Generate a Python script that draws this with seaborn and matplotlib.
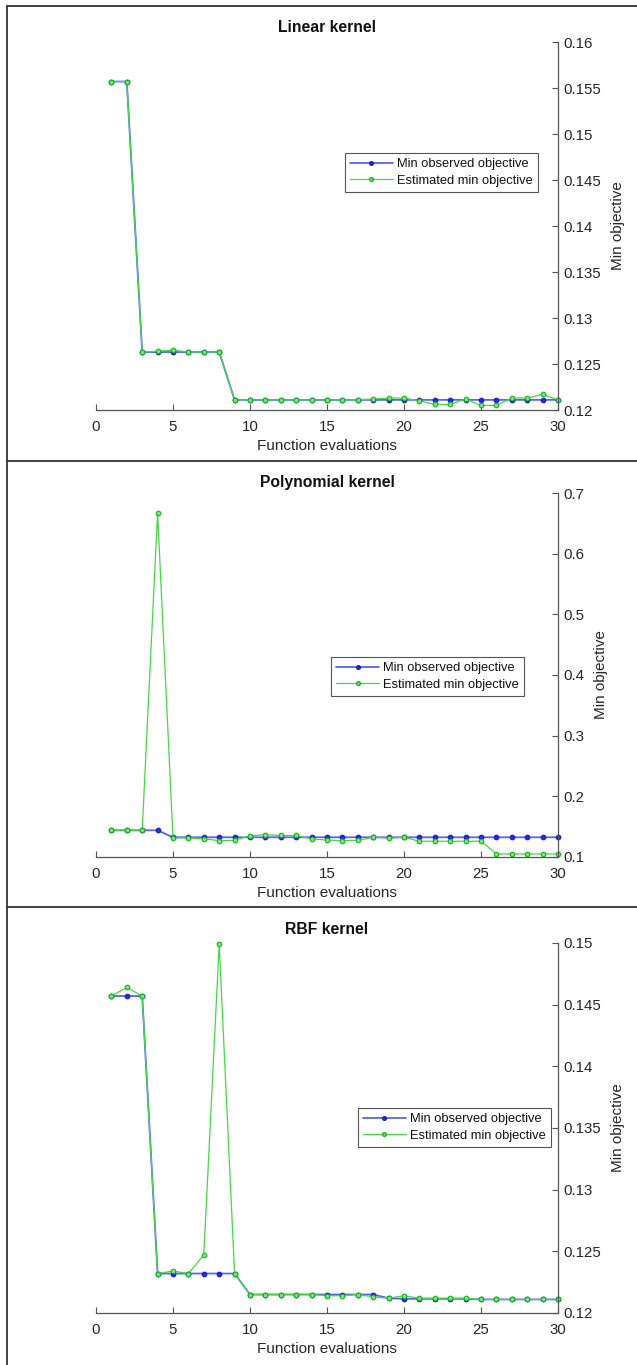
import matplotlib
matplotlib.use("Agg")
import matplotlib.pyplot as plt
from matplotlib.lines import Line2D
import numpy as np
import pandas as pd
import seaborn as sns

# ---- data -------------------------------------------------------------
evals = list(range(1, 31))

linear_observed = [0.1557, 0.1557, 0.1263, 0.1263, 0.1263, 0.1263, 0.1263, 0.1263,
                   0.1211, 0.1211, 0.1211, 0.1211, 0.1211, 0.1211, 0.1211, 0.1211,
                   0.1211, 0.1211, 0.1211, 0.1211, 0.1211, 0.1211, 0.1211, 0.1211,
                   0.1211, 0.1211, 0.1211, 0.1211, 0.1211, 0.1211]
linear_estimated = [0.1557, 0.1557, 0.1263, 0.1264, 0.1265, 0.1263, 0.1263, 0.1263,
                    0.1211, 0.1211, 0.1211, 0.1211, 0.1211, 0.1211, 0.1211, 0.1211,
                    0.1211, 0.1212, 0.1213, 0.1213, 0.1210, 0.1206, 0.1206, 0.1212,
                    0.1205, 0.1205, 0.1213, 0.1213, 0.1217, 0.1211]

poly_observed = [0.144, 0.144, 0.144, 0.144, 0.1325, 0.1325, 0.1325, 0.1325,
                 0.1325, 0.1325, 0.1325, 0.1325, 0.1325, 0.1325, 0.1325, 0.1325,
                 0.1325, 0.1325, 0.1325, 0.1325, 0.1325, 0.1325, 0.1325, 0.1325,
                 0.1325, 0.1325, 0.1325, 0.1325, 0.1325, 0.1325]
poly_estimated = [0.144, 0.144, 0.144, 0.667, 0.1314, 0.1314, 0.130, 0.127,
                  0.1275, 0.135, 0.1368, 0.1355, 0.1355, 0.1297, 0.128, 0.127,
                  0.1275, 0.1325, 0.131, 0.1325, 0.126, 0.126, 0.126, 0.126,
                  0.126, 0.105, 0.105, 0.105, 0.105, 0.105]

rbf_observed = [0.1457, 0.1457, 0.1457, 0.1232, 0.1232, 0.1232, 0.1232, 0.1232,
                0.1232, 0.1215, 0.1215, 0.1215, 0.1215, 0.1215, 0.1215, 0.1215,
                0.1215, 0.1215, 0.1212, 0.12115, 0.12115, 0.12115, 0.12115, 0.12115,
                0.1211, 0.1211, 0.1211, 0.1211, 0.1211, 0.1211]
rbf_estimated = [0.1457, 0.1464, 0.1457, 0.1232, 0.1234, 0.1232, 0.1247, 0.1499,
                 0.1232, 0.1215, 0.1215, 0.1215, 0.1215, 0.1215, 0.1214, 0.1214,
                 0.1215, 0.1213, 0.1212, 0.1214, 0.1212, 0.1212, 0.1212, 0.1212,
                 0.1211, 0.1211, 0.1211, 0.1211, 0.1211, 0.1211]

titles = ["Linear kernel", "Polynomial kernel", "RBF kernel"]
series_names = ["Min observed objective", "Estimated min objective"]
y_limits = [(0.12, 0.16), (0.1, 0.7), (0.12, 0.15)]
y_steps = [0.005, 0.1, 0.005]
x_ticks = [0, 5, 10, 15, 20, 25, 30]

# ---- style ------------------------------------------------------------
sns.set_theme(style="white")
plt.rcParams["font.family"] = ["Liberation Sans", "DejaVu Sans"]

line_colors = {series_names[0]: "#5566f0", series_names[1]: "#45d845"}
line_widths = {series_names[0]: 1.3, series_names[1]: 0.9}
marker_edges = {series_names[0]: "#1a1ad0", series_names[1]: "#15b815"}
marker_faces = {series_names[0]: "#2a2ae0", series_names[1]: "#7fe27f"}
axis_col = "#262626"
spine_col = "#555555"

W, H = 637, 1365
fig = plt.figure(figsize=(W / 100, H / 100), dpi=100)

# axes boxes in pixels: (left, right, top, bottom)
boxes = [(96, 558, 42, 410), (96, 558, 493, 857), (96, 558, 943, 1313)]
title_y = [27, 482, 929]
legend_anchor = [(0.539, 0.698), (0.509, 0.549), (0.567, 0.554)]

panels = [(linear_observed, linear_estimated),
          (poly_observed, poly_estimated),
          (rbf_observed, rbf_estimated)]

for i, (obs, est) in enumerate(panels):
    l, r, t, b = boxes[i]
    ax = fig.add_axes([l / W, 1 - b / H, (r - l) / W, (b - t) / H])
    df = pd.DataFrame({
        "Function evaluations": evals * 2,
        "Min objective": obs + est,
        "series": [series_names[0]] * len(evals) + [series_names[1]] * len(evals),
    })
    sns.lineplot(data=df, x="Function evaluations", y="Min objective",
                 hue="series", hue_order=series_names, palette=line_colors,
                 marker="o", markersize=3.3, linewidth=0.9, legend=False, ax=ax)
    for line, name in zip(ax.lines, series_names):
        line.set_linewidth(line_widths[name])
        line.set_markerfacecolor(marker_faces[name])
        line.set_markeredgecolor(marker_edges[name])
        line.set_markeredgewidth(0.8)
        line.set_clip_on(False)

    ax.set_xlim(0, 30)
    ax.set_ylim(*y_limits[i])
    ax.set_xticks(x_ticks)
    lo, hi = y_limits[i]
    yt = np.round(np.arange(lo, hi + y_steps[i] / 2, y_steps[i]), 4)
    ax.set_yticks(yt)
    ax.set_yticklabels([f"{v:g}" for v in yt])

    ax.yaxis.tick_right()
    ax.yaxis.set_label_position("right")
    for side in ["top", "left"]:
        ax.spines[side].set_visible(False)
    for side in ["bottom", "right"]:
        ax.spines[side].set_color(spine_col)
        ax.spines[side].set_linewidth(0.9)
    ax.tick_params(axis="both", direction="in", length=4, width=0.8,
                   color=spine_col, labelsize=10.8, labelcolor=axis_col)
    ax.tick_params(axis="x", pad=7, bottom=True)
    ax.tick_params(axis="y", pad=4, right=True, left=False)
    ax.set_xlabel("Function evaluations", fontsize=11, color=axis_col, labelpad=3.5)
    ax.set_ylabel("Min objective", fontsize=11, color=axis_col, labelpad=7)
    ax.grid(False)
    ax.set_facecolor("none")

    handles = [Line2D([], [], color=line_colors[n], marker="o", markersize=2.6,
                      markerfacecolor=marker_faces[n], markeredgecolor=marker_edges[n],
                      linewidth=line_widths[n]) for n in series_names]
    leg = ax.legend(handles, series_names, loc="upper left",
                    bbox_to_anchor=legend_anchor[i], fontsize=9.3,
                    frameon=True, fancybox=False, framealpha=1,
                    edgecolor=spine_col, handlelength=3.3, handletextpad=0.3,
                    borderpad=0.4, labelspacing=0.35, borderaxespad=0)
    leg.get_frame().set_linewidth(0.8)
    for txt in leg.get_texts():
        txt.set_color("#111111")

    fig.text((l + r) / 2 / W, 1 - title_y[i] / H, titles[i], ha="center",
             va="center", fontsize=11.3, fontweight="bold", color="#111111")

# frame lines separating the three panels
border_kw = dict(color="#333333", linewidth=1.3, transform=fig.transFigure)
fig.add_artist(Line2D([7.3 / W, 7.3 / W], [0, 1 - 6 / H], **border_kw))
for yy in [6, 460.5, 906.5]:
    fig.add_artist(Line2D([7.3 / W, 1], [1 - yy / H, 1 - yy / H], **border_kw))

fig.savefig("out.png", dpi=100, facecolor="white")
